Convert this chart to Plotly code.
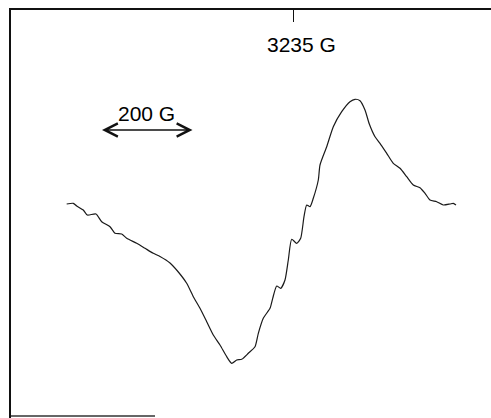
import plotly.graph_objects as go

# Spectrum trace: magnetic field (G) and derivative signal (arb. units)
px = [66.7, 73.3, 76.7, 83.3, 87.3, 96, 101.7, 110, 115, 121.7, 126.7, 136.7, 145, 153.3, 160, 170,
      178.3, 186.7, 193.3, 200, 206.7, 213.3, 220, 226.7, 231.7, 236.7, 241.7, 248.3, 255, 258.3,
      263.3, 270, 272.7, 276.7, 280.7, 285, 288.3, 291.7, 296.7, 300.7, 304, 306.7, 310, 313.3,
      318.3, 320, 326.7, 333.3, 341.7, 350, 355, 360, 365, 369.3, 375, 380, 386.7, 393.3, 400,
      406.7, 413.3, 420, 425, 430, 436.7, 443.3, 450, 453.3, 456]
py = [204, 203.3, 206, 210, 215, 214, 221.7, 226.7, 233.3, 234, 238.3, 243.3, 248.3, 253.3, 256.5, 263,
      272, 283.3, 296.7, 308.3, 321.7, 335, 345, 356.7, 363.3, 360, 359.3, 353.3, 346.7, 333.3,
      318.3, 308.3, 298.3, 286, 288.3, 280, 260, 239.3, 243.3, 238.3, 216.7, 205, 206.7, 198.3,
      180, 165, 146.7, 126.7, 111.7, 101.7, 99.3, 100.7, 110, 124, 136.7, 143.3, 153.3, 163.3, 168.3,
      176.7, 185, 187.7, 193.3, 200, 201.7, 205, 204, 203.3, 205]

G_PER_PX = 200 / 92
CENTER_FIELD = 3235
CENTER_PX = 293
field = [round(CENTER_FIELD + (p - CENTER_PX) * G_PER_PX, 1) for p in px]
signal = [round(230 - v, 1) for v in py]

center_label = "3235 G"
scale_label = "200 G"
scale_width = 200
tick_fields = [CENTER_FIELD]

W, H = 491, 418
L, T = 11, 10   # plot area starts here (frame lines sit just outside)

def fx(p):
    return CENTER_FIELD + (p - CENTER_PX) * G_PER_PX

def fy(p):
    return 230 - p

fig = go.Figure()
fig.add_trace(go.Scatter(x=field, y=signal, mode="lines",
                         line=dict(color="#1a1a1a", width=1.2, shape="spline", smoothing=0.6),
                         hoverinfo="skip", showlegend=False, cliponaxis=False))

shapes = [
    dict(type="line", xref="x", yref="y", x0=fx(L), x1=fx(155), y0=fy(416), y1=fy(416),
         line=dict(color="#333333", width=1.5)),
]

scale_x0 = fx(100.5)
font = dict(family="Liberation Sans, Arial", size=21, color="#000000")
annotations = [
    dict(x=fx(301), y=fy(44.5), xref="x", yref="y", text=center_label, showarrow=False, font=font),
    dict(x=fx(146), y=fy(113), xref="x", yref="y", text=scale_label, showarrow=False, font=font),
    dict(x=scale_x0 + scale_width, y=fy(130), ax=scale_x0, ay=fy(130), xref="x", yref="y",
         axref="x", ayref="y", text="", showarrow=True, arrowhead=5, startarrowhead=5,
         arrowside="end+start", arrowsize=1.6, startarrowsize=1.6, arrowwidth=1.6, arrowcolor="#111111"),
]

fig.update_layout(
    width=W, height=H, margin=dict(l=L, r=0, t=T, b=0, pad=0),
    paper_bgcolor="white", plot_bgcolor="white",
    xaxis=dict(range=[fx(L), fx(W)], side="top", showline=True, linecolor="#111111", linewidth=2,
               showgrid=False, zeroline=False, tickvals=tick_fields, ticks="inside", ticklen=12,
               tickwidth=1.2, tickcolor="#111111", showticklabels=False, fixedrange=True),
    yaxis=dict(range=[fy(H), fy(T)], showline=True, linecolor="#111111", linewidth=2,
               showgrid=False, zeroline=False, ticks="", showticklabels=False, fixedrange=True),
    shapes=shapes, annotations=annotations,
)

fig.write_html("out.html", config={"displayModeBar": False},
               post_script="document.body.style.margin='0';document.body.style.overflow='hidden';")
